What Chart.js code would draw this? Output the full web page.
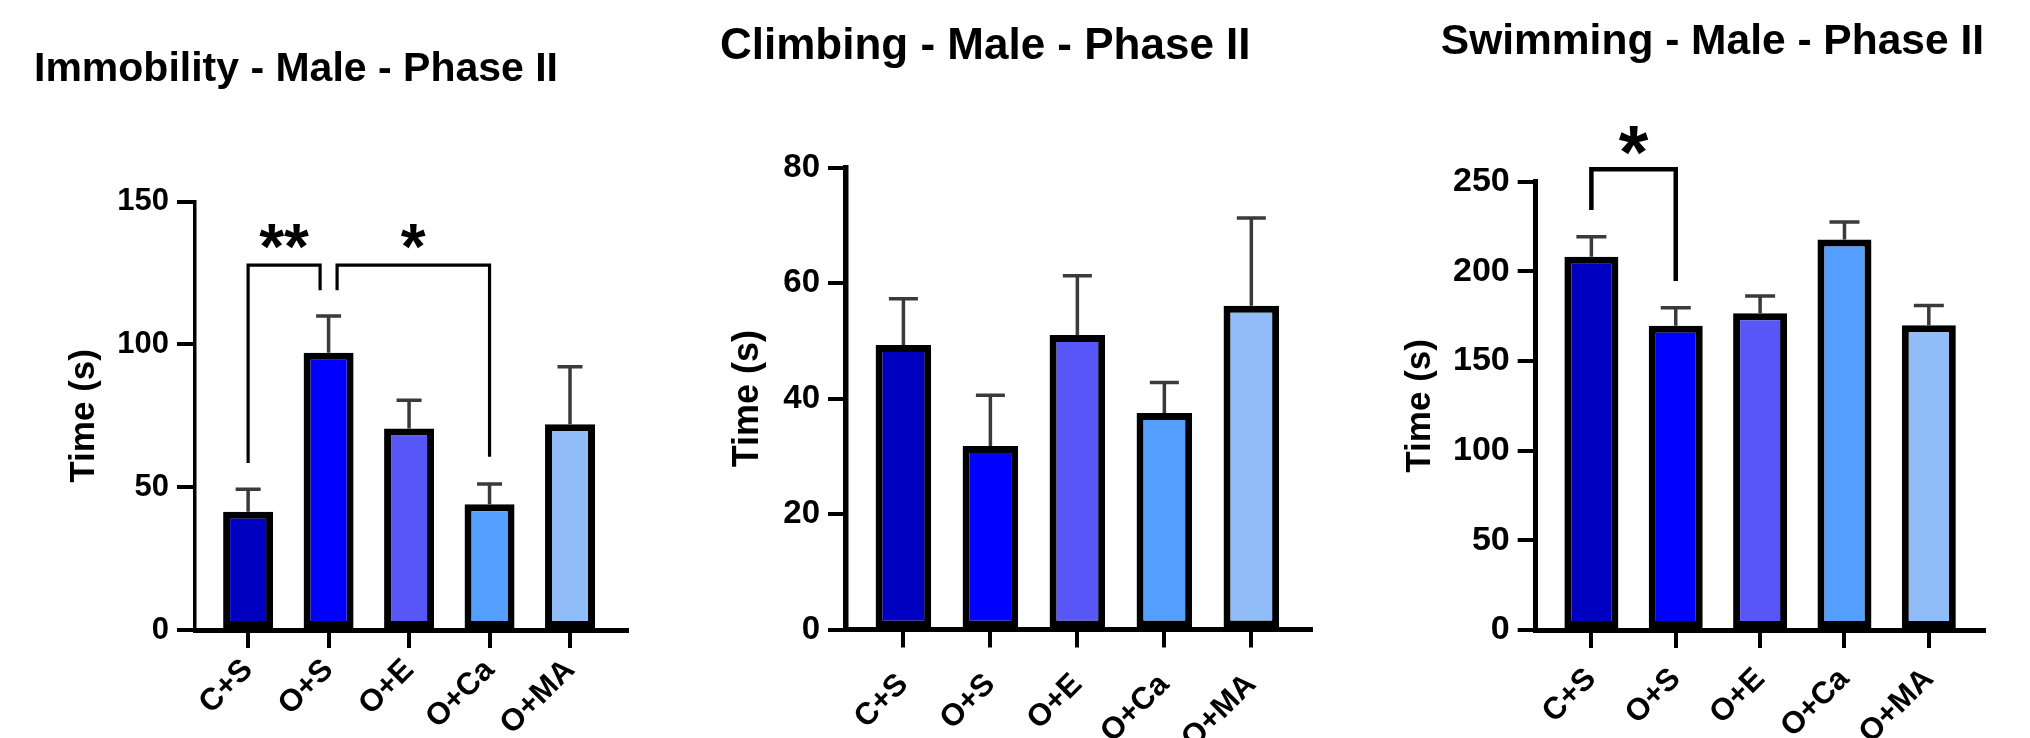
<!DOCTYPE html>
<html>
<head>
<meta charset="utf-8">
<title>Forced swim test – Male – Phase II</title>
<script src="https://cdn.jsdelivr.net/npm/chart.js@4.4.1/dist/chart.umd.min.js"></script>
<style>
  html, body { margin: 0; padding: 0; background: #ffffff; }
  body { width: 2030px; height: 738px; position: relative; overflow: hidden; }
  canvas { position: absolute; top: 0; }
</style>
</head>
<body>
<canvas id="immobility" width="666" height="738" style="left:34px"></canvas>
<canvas id="climbing" width="660" height="738" style="left:720px"></canvas>
<canvas id="swimming" width="650" height="738" style="left:1380px"></canvas>
<script>
// ---- data -------------------------------------------------------------
const groups = ['C+S', 'O+S', 'O+E', 'O+Ca', 'O+MA'];

const immobilityMean = [41.4, 97.1, 70.6, 44.0, 72.1];
const immobilitySem  = [7.9, 12.9, 9.9, 7.1, 20.1];
const immobilityTicks = [0, 50, 100, 150];

const climbingMean = [49.3, 31.8, 51.0, 37.5, 56.1];
const climbingSem  = [8.0, 8.8, 10.3, 5.3, 15.2];
const climbingTicks = [0, 20, 40, 60, 80];

const swimmingMean = [208.1, 169.7, 176.6, 217.8, 170.0];
const swimmingSem  = [11.2, 10.0, 9.6, 9.7, 11.0];
const swimmingTicks = [0, 50, 100, 150, 200, 250];

// significance brackets: group indices, bracket height and leg ends (in seconds)
const immobilitySig = [
  { from: 0, to: 1, top: 127.8, fromEnd: 58.5, toEnd: 119.0, label: '**' },
  { from: 1, to: 3, top: 127.8, fromEnd: 119.0, toEnd: 60.7, label: '*' }
];
const climbingSig = [];
const swimmingSig = [
  { from: 0, to: 1, top: 257.0, fromEnd: 234.2, toEnd: 194.6, label: '*' }
];

// ---- styling ----------------------------------------------------------
const FONT = "'Liberation Sans', Arial, Helvetica, sans-serif";
const groupColors = ['#0000C0', '#0000FF', '#5757F7', '#539EFE', '#90BDF8'];

// error bars (mean + SEM) drawn behind the bars so the bar outline covers their base
function semPlugin(sem, style) {
  return {
    id: 'semBars',
    beforeDatasetsDraw(chart) {
      const ctx = chart.ctx;
      const y = chart.scales.y;
      const meta = chart.getDatasetMeta(0);
      const values = chart.data.datasets[0].data;
      ctx.save();
      ctx.strokeStyle = style.color;
      ctx.lineWidth = style.width;
      ctx.lineCap = 'butt';
      meta.data.forEach((bar, i) => {
        const v = values[i].y;
        const yTop = y.getPixelForValue(v + sem[i]);
        const yBase = y.getPixelForValue(v);
        ctx.beginPath();
        ctx.moveTo(bar.x, yBase);
        ctx.lineTo(bar.x, yTop);
        ctx.moveTo(bar.x - style.cap / 2, yTop);
        ctx.lineTo(bar.x + style.cap / 2, yTop);
        ctx.stroke();
      });
      ctx.restore();
    }
  };
}

// comparison brackets with their star labels
function bracketPlugin(items, style) {
  return {
    id: 'sigBrackets',
    afterDatasetsDraw(chart) {
      if (!items.length) return;
      const ctx = chart.ctx;
      const x = chart.scales.x;
      const y = chart.scales.y;
      const uses = {};
      items.forEach(b => {
        uses[b.from] = (uses[b.from] || 0) + 1;
        uses[b.to] = (uses[b.to] || 0) + 1;
      });
      ctx.save();
      ctx.strokeStyle = '#000';
      ctx.fillStyle = '#000';
      ctx.lineWidth = style.lineWidth;
      ctx.lineJoin = 'miter';
      ctx.lineCap = 'butt';
      items.forEach(b => {
        let x1 = x.getPixelForValue(b.from);
        let x2 = x.getPixelForValue(b.to);
        if (uses[b.from] > 1) x1 += style.gap;
        if (uses[b.to] > 1) x2 -= style.gap;
        const yTop = y.getPixelForValue(b.top);
        ctx.beginPath();
        ctx.moveTo(x1, y.getPixelForValue(b.fromEnd));
        ctx.lineTo(x1, yTop);
        ctx.lineTo(x2, yTop);
        ctx.lineTo(x2, y.getPixelForValue(b.toEnd));
        ctx.stroke();

        ctx.font = 'bold ' + style.starSize + 'px ' + FONT;
        ctx.textAlign = 'center';
        ctx.textBaseline = 'alphabetic';
        const m = ctx.measureText(b.label);
        const cy = yTop - style.lift;
        const baseline = cy + (m.actualBoundingBoxAscent - m.actualBoundingBoxDescent) / 2;
        ctx.fillText(b.label, (x1 + x2) / 2, baseline);
      });
      ctx.restore();
    }
  };
}

function makePanel(canvasId, p) {
  const tickFont = size => ({ family: FONT, size: size, weight: 'bold' });
  return new Chart(document.getElementById(canvasId), {
    type: 'bar',
    data: {
      datasets: [{
        data: p.means.map((v, i) => ({ x: i, y: v })),
        backgroundColor: groupColors,
        borderColor: '#000000',
        borderWidth: 7,
        borderSkipped: false,
        barPercentage: p.barPct,
        categoryPercentage: 1
      }]
    },
    options: {
      responsive: false,
      animation: false,
      devicePixelRatio: 1,
      layout: { padding: { left: 0, right: p.padRight, top: 0, bottom: 0 } },
      plugins: {
        legend: { display: false },
        tooltip: { enabled: false },
        title: {
          display: true,
          text: p.title,
          align: p.titleAlign,
          color: '#000000',
          font: { family: FONT, size: p.titleSize, weight: 'bold', lineHeight: 1.2 },
          padding: { top: p.titleTop, bottom: p.titleBottom }
        }
      },
      scales: {
        x: {
          type: 'linear',
          min: -0.66,
          max: p.xMax,
          offset: false,
          afterBuildTicks: s => { s.ticks = groups.map((_, i) => ({ value: i })); },
          afterFit: s => { s.height = p.xHeight; },
          grid: {
            display: true, offset: false, drawOnChartArea: false, drawTicks: true,
            tickLength: 18, tickWidth: 4, tickColor: '#000', color: '#000', lineWidth: 4
          },
          border: { display: true, color: '#000', width: 5 },
          ticks: {
            autoSkip: false, minRotation: 45, maxRotation: 45,
            padding: p.xLabelPad, color: '#000',
            font: tickFont(31),
            callback: v => groups[v]
          }
        },
        y: {
          min: 0,
          max: p.yMax,
          afterBuildTicks: s => { s.ticks = p.yTicks.map(v => ({ value: v })); },
          afterFit: s => { s.width = p.yWidth; },
          grid: {
            display: true, drawOnChartArea: false, drawTicks: true,
            tickLength: 18, tickWidth: 4, tickColor: '#000', color: '#000', lineWidth: 4
          },
          border: { display: true, color: '#000', width: p.yBorder },
          ticks: { padding: 8, color: '#000', font: tickFont(p.yTickSize) },
          title: {
            display: true,
            text: 'Time (s)',
            color: '#000',
            font: { family: FONT, size: p.yTitleSize, weight: 'bold', lineHeight: 1.2 },
            padding: { top: p.yTitlePad, bottom: 0 }
          }
        }
      }
    },
    plugins: [
      semPlugin(p.sem, { color: '#3a3a3a', width: 3.5, cap: p.cap }),
      bracketPlugin(p.sig, p.sigStyle)
    ]
  });
}

makePanel('immobility', {
  title: 'Immobility - Male - Phase II', titleAlign: 'start', titleSize: 41,
  titleTop: 45.2, titleBottom: 107.3,
  means: immobilityMean, sem: immobilitySem, yTicks: immobilityTicks, yMax: 150,
  sig: immobilitySig, sigStyle: { lineWidth: 3.2, gap: 8.5, starSize: 64, lift: 28.3 },
  xMax: 4.708, xHeight: 108, xLabelPad: 4,
  yWidth: 161, padRight: 73, yBorder: 3.5, yTickSize: 31, yTitleSize: 35, yTitlePad: 29,
  barPct: 0.621, cap: 25
});

makePanel('climbing', {
  title: 'Climbing - Male - Phase II', titleAlign: 'start', titleSize: 44,
  titleTop: 20.65, titleBottom: 94.25,
  means: climbingMean, sem: climbingSem, yTicks: climbingTicks, yMax: 80,
  sig: climbingSig, sigStyle: { lineWidth: 4, gap: 8.5, starSize: 64, lift: 28 },
  xMax: 4.686, xHeight: 108.5, xLabelPad: 19,
  yWidth: 126, padRight: 69, yBorder: 5.5, yTickSize: 33, yTitleSize: 36, yTitlePad: 6,
  barPct: 0.639, cap: 29
});

makePanel('swimming', {
  title: 'Swimming - Male - Phase II', titleAlign: 'end', titleSize: 42.5,
  titleTop: 16.47, titleBottom: 114.23,
  means: swimmingMean, sem: swimmingSem, yTicks: swimmingTicks, yMax: 250,
  sig: swimmingSig, sigStyle: { lineWidth: 4.5, gap: 8.5, starSize: 76, lift: 29 },
  xMax: 4.654, xHeight: 108, xLabelPad: 13,
  yWidth: 155.7, padRight: 46, yBorder: 5, yTickSize: 34, yTitleSize: 35, yTitlePad: 19.5,
  barPct: 0.64, cap: 30
});
</script>
</body>
</html>
